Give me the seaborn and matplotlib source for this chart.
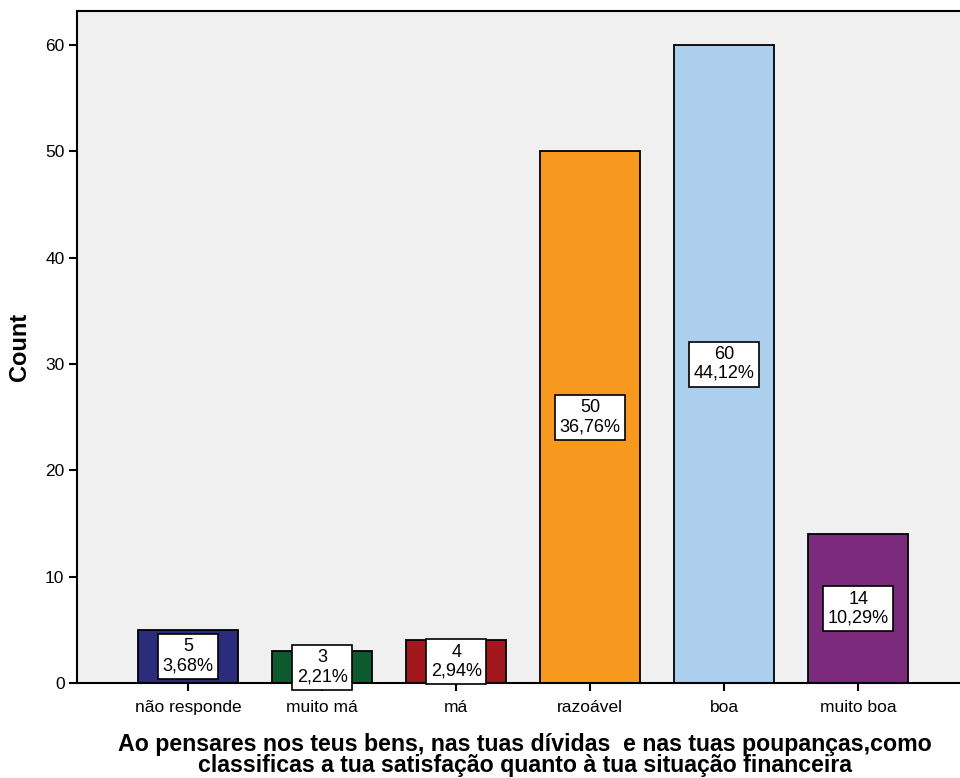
import pandas as pd
import matplotlib
matplotlib.use("Agg")
import matplotlib.pyplot as plt
import seaborn as sns

# values
categories = ["não responde", "muito má", "má", "razoável", "boa", "muito boa"]
counts = [5, 3, 4, 50, 60, 14]
pct_labels = ["3,68%", "2,21%", "2,94%", "36,76%", "44,12%", "10,29%"]
bar_colors = ["#2B2C7B", "#0D5A2F", "#A4161D", "#F8991F", "#ACCFED", "#7C2A7C"]
yticks = [0, 10, 20, 30, 40, 50, 60]

df = pd.DataFrame({"cat": categories, "count": counts})

sns.set_style("white")
plt.rcParams["font.family"] = ["Liberation Sans", "DejaVu Sans"]
plt.rcParams["text.color"] = "black"
plt.rcParams["axes.labelcolor"] = "black"
plt.rcParams["xtick.color"] = "black"
plt.rcParams["ytick.color"] = "black"

fig = plt.figure(figsize=(9.6, 7.78), dpi=100)
ax = fig.add_axes([77 / 960, 95 / 778, 1 - 77 / 960, 672 / 778])
ax.set_facecolor("#F0F0F0")

sns.barplot(data=df, x="cat", y="count", hue="cat", palette=bar_colors,
            order=categories, hue_order=categories, legend=False, saturation=1,
            width=0.75, edgecolor="black", linewidth=1.3, ax=ax)

ax.set_xlim(-0.83, 5.76)
ax.set_ylim(0, 63.2)
ax.set_yticks(yticks)
ax.tick_params(axis="both", direction="out", length=6, width=1.5,
               color="black", labelsize=12.5, pad=3, left=True, bottom=True)
ax.tick_params(axis="x", pad=6)
for s in ["left", "top", "bottom"]:
    ax.spines[s].set_color("black")
    ax.spines[s].set_linewidth(1.5)
ax.spines["right"].set_visible(False)

for i, (c, p) in enumerate(zip(counts, pct_labels)):
    ax.text(i, c / 2, f"{c}\n{p}", ha="center", va="center", fontsize=13,
            linespacing=1.15, zorder=5,
            bbox=dict(boxstyle="square,pad=0.25", fc="white", ec="black", lw=1.2))

ax.set_ylabel("Count", fontsize=17, fontweight="bold")
ax.yaxis.set_label_coords(-0.052, 0.5)
ax.set_xlabel("Ao pensares nos teus bens, nas tuas dívidas  e nas tuas poupanças,como\n"
              "classificas a tua satisfação quanto à tua situação financeira",
              fontsize=16.7, fontweight="bold", linespacing=0.92)
ax.xaxis.set_label_coords((525 - 77) / 883, -0.074)

fig.savefig("out.png", dpi=100)
